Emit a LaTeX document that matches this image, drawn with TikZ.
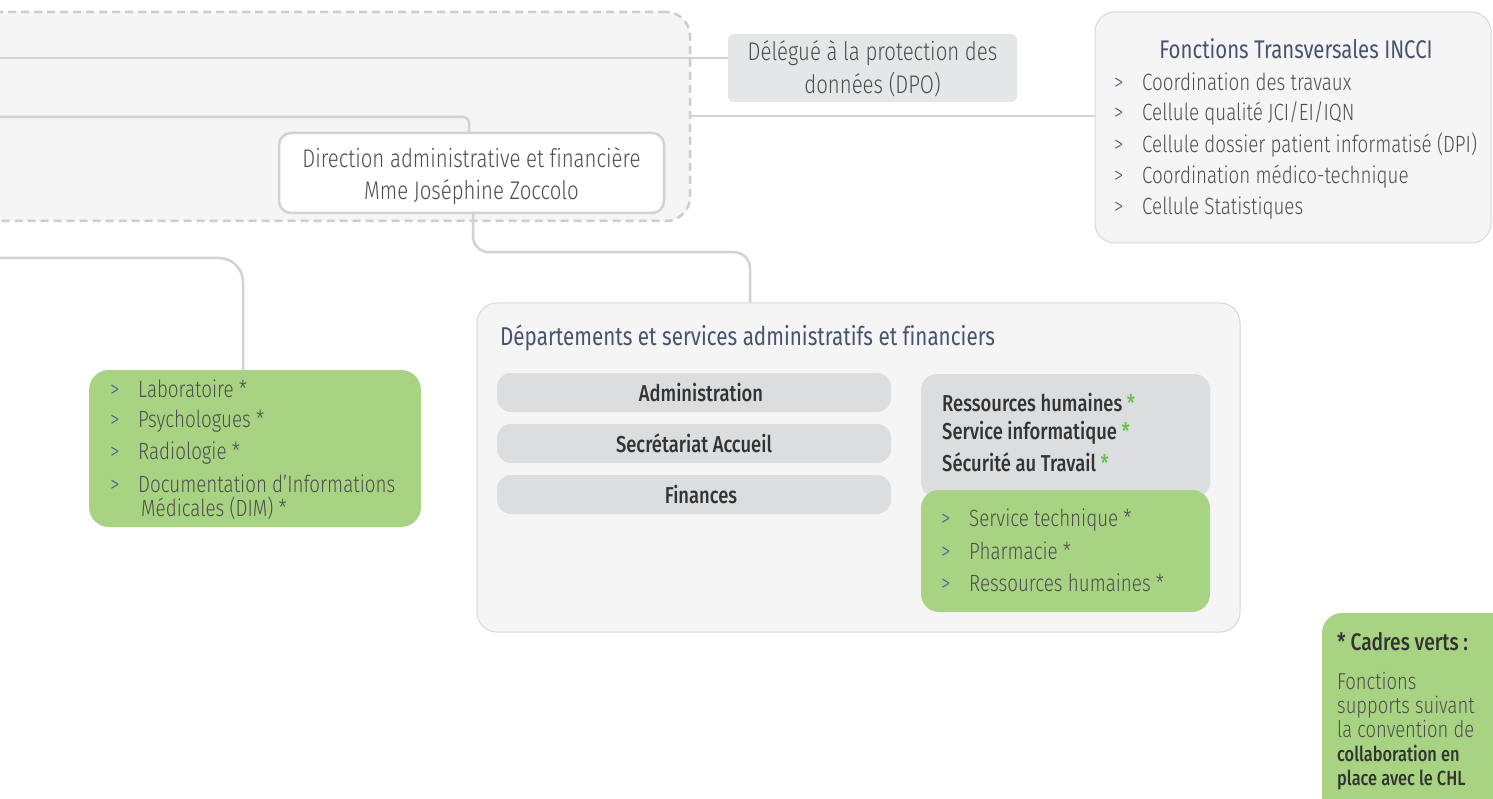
\documentclass[tikz,border=0pt]{standalone}
\usepackage{fontspec}
\setmainfont{Fira Sans}[UprightFont=* Light, BoldFont=* Medium, FakeStretch=0.8, Ligatures=NoCommon]
\newfontfamily\regfont{Fira Sans}[FakeStretch=0.8, Ligatures=NoCommon]
\newfontfamily\medfont{Fira Sans Medium}[FakeStretch=0.8, Ligatures=NoCommon]
\usetikzlibrary{calc}
\definecolor{connc}{HTML}{D2D2D2}
\definecolor{grpfill}{HTML}{F5F5F5}
\definecolor{dashc}{HTML}{CDCDCD}
\definecolor{dpofill}{HTML}{E5E6E8}
\definecolor{pillfill}{HTML}{DCDDDF}
\definecolor{greenfill}{HTML}{A8D383}
\definecolor{titlec}{HTML}{48536E}
\definecolor{bulc}{HTML}{4A5A9A}
\definecolor{txtc}{HTML}{4D4D4D}
\definecolor{darkc}{HTML}{333333}
\definecolor{astc}{HTML}{6CBF4C}
\definecolor{boxline}{HTML}{D8D8D8}
\pgfdeclarelayer{bg}
\pgfdeclarelayer{mid}
\pgfsetlayers{bg,mid,main}
\newcommand{\bul}{\makebox[28pt][l]{\color{bulc}>}}
\newcommand{\gast}{{\color{astc}*}}
\begin{document}
\begin{tikzpicture}[x=1pt,y=-1pt,
  conn/.style={draw=connc, line width=2.5pt},
  dashbox/.style={draw=dashc, fill=grpfill, line width=2.5pt, dash pattern=on 8pt off 5pt, rounded corners=24pt, inner sep=0pt},
  dirbox/.style={draw=connc, fill=white, line width=2.5pt, rounded corners=12pt, inner sep=0pt},
  dpobox/.style={fill=dpofill, rounded corners=6pt, inner sep=0pt},
  panel/.style={draw=boxline, fill=grpfill, line width=1pt, rounded corners=20pt, inner sep=0pt},
  pill/.style={fill=pillfill, rounded corners=14pt, inner sep=0pt, minimum width=394pt, minimum height=39pt},
  greenbox/.style={fill=greenfill, rounded corners=20pt, inner sep=0pt},
  txt/.style={text=txtc, font=\fontsize{23.5}{32}\selectfont, inner sep=0pt},
  ctxt/.style={txt, align=center, font=\fontsize{25.5}{32}\selectfont},
  item/.style={txt, anchor=west},
  ttl/.style={text=titlec, font=\regfont\fontsize{25.5}{30}\selectfont, inner sep=0pt},
  pilltxt/.style={text=darkc, font=\medfont\fontsize{23}{30}\selectfont, inner sep=0pt},
]
\useasboundingbox (0,0) rectangle (1493,799);

% boxes
\begin{pgfonlayer}{bg}
\fill[white] (0,0) rectangle (1493,799);
\node[dashbox, minimum width=730pt, minimum height=209pt] (grp) at (325,116.5) {};
\end{pgfonlayer}
\node[dirbox, minimum width=385pt, minimum height=80pt] (dir) at (471.5,173) {};
\node[dpobox, minimum width=289pt, minimum height=68pt] (dpo) at (872.5,68) {};
\node[panel, minimum width=396pt, minimum height=231pt] (ft) at (1293,127.5) {};
\node[greenbox, minimum width=332pt, minimum height=157pt] (g1) at (255,448.5) {};
\node[panel, minimum width=763pt, minimum height=329pt] (dept) at (858.5,467.5) {};
\node[pill] (adm) at (694,392.5) {};
\node[pill] (sec) at (694,443.5) {};
\node[pill] (fin) at (694,494.5) {};
\node[fill=pillfill, rounded corners=16pt, minimum width=289pt, minimum height=124pt, inner sep=0pt] (gr) at (1065.5,436) {};
\node[greenbox, rounded corners=18pt, minimum width=289pt, minimum height=122pt] (g2) at (1065.5,551) {};
\node[greenbox, minimum width=200pt, minimum height=220pt] (leg) at (1422,723) {};

% connectors
\coordinate (a1) at (-5,58);
\coordinate (a2) at (-5,117);
\coordinate (a4) at (690,116);
\coordinate (a5) at (-5,258);
\coordinate (d1) at (750,303);
\coordinate (g1t) at (243,370);
\coordinate (dtop) at (469,133);
\begin{pgfonlayer}{mid}
\draw[conn] (a1) -- (a1 -| dpo.west);
\draw[conn, rounded corners=6pt] (a2) -| (dtop);
\draw[conn] (a4) -- (a4 -| ft.west);
\draw[conn, rounded corners=24pt] (a5) -| (g1t);
\draw[conn, rounded corners=16pt] ([xshift=1.5pt]dir.south) -- ++(0,38) -| (d1);
\end{pgfonlayer}

% texts
\node[ctxt] (dirt1) at (471.5,158) {Direction administrative et f\kern0pt inancière};
\node[ctxt] (dirt2) at (471.5,192) {Mme Joséphine Zoccolo};
\node[ctxt] (dpot1) at (872.5,53) {Délégué à la protection des};
\node[ctxt] (dpot2) at (872.5,85) {données (DPO)};

\node[ttl] (ftt) at (1296,49) {Fonctions Transversales INCCI};
\node[item] (f1) at (1114,82) {\bul Coordination des travaux};
\node[item] (f2) at (1114,113) {\bul Cellule qualité JCI/EI/IQN};
\node[item] (f3) at (1114,145) {\bul Cellule dossier patient informatisé (DPI)};
\node[item] (f4) at (1114,177) {\bul Coordination médico-technique};
\node[item] (f5) at (1114,208) {\bul Cellule Statistiques};

\node[item] (l1) at (110,389) {\bul Laboratoire *};
\node[item] (l2) at (110,421) {\bul Psychologues *};
\node[item] (l3) at (110,453) {\bul Radiologie *};
\node[item] (l4) at (110,484) {\bul Documentation d’Informations};
\node[item] (l5) at (141,508) {Médicales (DIM) *};

\node[ttl, anchor=west, font=\regfont\fontsize{25.8}{30}\selectfont] (dt) at (500,338) {Départements et services administratifs et f\kern0pt inanciers};
\node[pilltxt] at ([xshift=7pt]adm.center) {Administration};
\node[pilltxt] at (sec) {Secrétariat Accueil};
\node[pilltxt] at ([xshift=7pt]fin.center) {Finances};
\node[pilltxt, anchor=west] (r1) at (942,403) {Ressources humaines \gast};
\node[pilltxt, anchor=west] (r2) at (942,433) {Service informatique \gast};
\node[pilltxt, anchor=west] (r3) at (942,462) {Sécurité au Travail \gast};
\node[item] (s1) at (941,520) {\bul Service technique *};
\node[item] (s2) at (941,551) {\bul Pharmacie *};
\node[item] (s3) at (941,583) {\bul Ressources humaines *};

\node[pilltxt, anchor=west, font=\medfont\fontsize{24}{30}\selectfont] (lt) at (1337,642) {* Cadres verts :};
\node[txt, anchor=north west, align=left, font=\fontsize{23}{24}\selectfont] (lb) at (1337,672) {Fonctions\\supports suivant\\la convention de\\{\color{darkc}\medfont\fontsize{20.5}{24}\selectfont collaboration en}\\{\color{darkc}\medfont\fontsize{20.5}{24}\selectfont place avec le CHL}};
\end{tikzpicture}
\end{document}
